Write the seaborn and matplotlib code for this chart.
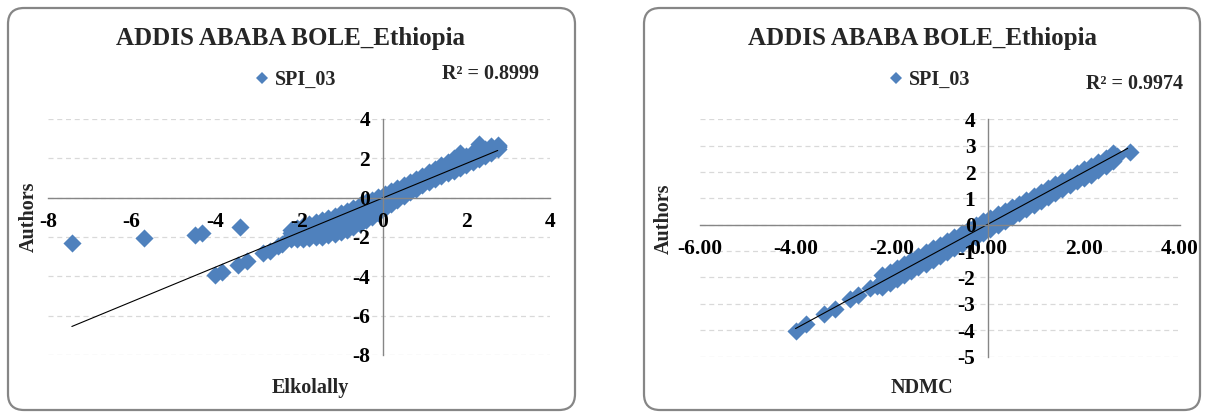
import numpy as np
import pandas as pd
import matplotlib
matplotlib.use("Agg")
import matplotlib.pyplot as plt
from matplotlib.patches import FancyBboxPatch
from matplotlib.ticker import FormatStrFormatter
import seaborn as sns

# ---------------- data ----------------
title = "ADDIS ABABA BOLE_Ethiopia"
series_name = "SPI_03"

# Left chart: Elkolally (x) vs Authors (y)
left_sparse_x = [-7.43, -5.70, -4.49, -4.33, -3.40, -4.01, -3.83, -3.45, -3.25,
                 -2.86, -2.70, -2.50, -2.40]
left_sparse_y = [-2.32, -2.06, -1.90, -1.78, -1.47, -3.93, -3.76, -3.42, -3.22,
                 -2.83, -2.69, -2.46, -2.35]
left_band_x = [-2.20, -2.05, -1.90, -1.75, -1.60, -1.45, -1.30, -1.15, -1.00, -0.85,
               -0.70, -0.55, -0.40, -0.25, -0.10, 0.05, 0.20, 0.35, 0.50, 0.65,
               0.80, 0.95, 1.10, 1.25, 1.40, 1.55, 1.70, 1.85, 2.00, 2.15,
               2.30, 2.45, 2.60, 2.75]
left_band_low = [-2.10, -2.10, -2.08, -2.05, -2.02, -1.98, -1.92, -1.85, -1.75, -1.62,
                 -1.48, -1.32, -1.15, -0.98, -0.78, -0.55, -0.32, -0.10, 0.10, 0.28,
                 0.45, 0.62, 0.78, 0.93, 1.08, 1.23, 1.38, 1.52, 1.67, 1.80,
                 1.95, 2.10, 2.25, 2.50]
left_band_m1 = [-1.95, -1.92, -1.88, -1.82, -1.76, -1.70, -1.63, -1.55, -1.45, -1.32,
                -1.18, -1.02, -0.85, -0.68, -0.50, -0.30, -0.10, 0.10, 0.28, 0.45,
                0.62, 0.78, 0.95, 1.11, 1.27, 1.42, 1.58, 1.75, 1.85, 1.98,
                2.15, 2.25, 2.38, 2.58]
left_band_m2 = [-1.80, -1.72, -1.65, -1.58, -1.50, -1.42, -1.33, -1.22, -1.12, -0.98,
                -0.85, -0.70, -0.55, -0.40, -0.24, -0.06, 0.12, 0.30, 0.46, 0.62,
                0.79, 0.95, 1.12, 1.29, 1.46, 1.62, 1.78, 2.00, 2.00, 2.15,
                2.45, 2.40, 2.52, 2.62]
left_band_high = [-1.65, -1.55, -1.45, -1.35, -1.25, -1.15, -1.05, -0.92, -0.80, -0.66,
                  -0.52, -0.38, -0.24, -0.10, 0.05, 0.20, 0.35, 0.50, 0.65, 0.80,
                  0.96, 1.12, 1.30, 1.47, 1.65, 1.82, 2.00, 2.28, 2.12, 2.32,
                  2.75, 2.50, 2.62, 2.66]
left_trend_x = [-7.43, 2.75]
left_trend_y = [-6.55, 2.40]
left_r2 = "R² = 0.8999"
left_xlabel = "Elkolally"

# Right chart: NDMC (x) vs Authors (y)
right_sparse_x = [-4.01, -3.80, -3.42, -3.18, -2.87, -2.70, -2.45, -2.32, 2.68, 2.95]
right_sparse_y = [-4.02, -3.75, -3.37, -3.18, -2.82, -2.66, -2.40, -2.33, 2.62, 2.77]
right_band_x = [-2.20, -2.05, -1.90, -1.75, -1.60, -1.45, -1.30, -1.15, -1.00, -0.85,
                -0.70, -0.55, -0.40, -0.25, -0.10, 0.05, 0.20, 0.35, 0.50, 0.65,
                0.80, 0.95, 1.10, 1.25, 1.40, 1.55, 1.70, 1.85, 2.00, 2.15,
                2.30, 2.45, 2.60]
right_band_low = [-2.35, -2.22, -2.07, -1.92, -1.77, -1.62, -1.47, -1.32, -1.17, -1.02,
                  -0.87, -0.72, -0.58, -0.45, -0.30, -0.15, 0.00, 0.15, 0.30, 0.45,
                  0.60, 0.75, 0.90, 1.05, 1.20, 1.35, 1.50, 1.65, 1.76, 1.90,
                  2.08, 2.25, 2.42]
right_band_mid = [-2.15, -2.02, -1.87, -1.72, -1.57, -1.42, -1.27, -1.12, -0.97, -0.82,
                  -0.67, -0.52, -0.37, -0.23, -0.08, 0.06, 0.20, 0.35, 0.49, 0.63,
                  0.78, 0.93, 1.08, 1.22, 1.37, 1.51, 1.66, 1.80, 1.93, 2.08,
                  2.25, 2.40, 2.57]
right_band_high = [-1.90, -1.80, -1.65, -1.50, -1.35, -1.20, -1.05, -0.90, -0.75, -0.60,
                   -0.45, -0.30, -0.15, 0.00, 0.14, 0.26, 0.40, 0.54, 0.66, 0.80,
                   0.95, 1.10, 1.25, 1.40, 1.54, 1.66, 1.80, 1.95, 2.10, 2.25,
                   2.40, 2.55, 2.72]
right_trend_x = [-4.01, 2.91]
right_trend_y = [-3.94, 2.90]
right_r2 = "R² = 0.9974"
right_xlabel = "NDMC"

ylabel = "Authors"
left_xticks = [-8, -6, -4, -2, 0, 2, 4]
left_yticks = [-8, -6, -4, -2, 0, 2, 4]
right_xticks = [-6, -4, -2, 0, 2, 4]
right_yticks = [-5, -4, -3, -2, -1, 0, 1, 2, 3, 4]

# ---------------- style ----------------
sns.set_theme(style="white")
plt.rcParams["font.family"] = ["Liberation Serif", "DejaVu Serif"]
plt.rcParams["font.weight"] = "bold"

BLUE = "#4F81BD"
GREY = "#868686"
W, H = 1206, 412
FS = 14.5
TICK_FS = 15.5

fig = plt.figure(figsize=(W / 100, H / 100), dpi=100)
fig.patch.set_facecolor("white")


def fx(px):
    return px / W


def fy(py):
    return 1 - py / H


def make_df(sx, sy, bx, rows):
    xs = list(sx)
    ys = list(sy)
    for r in rows:
        xs += list(bx)
        ys += list(r)
    return pd.DataFrame({"x": xs, "y": ys})


def draw_panel(rect_px, axes_px, df, tx, ty, xticks, yticks, xfmt, r2, r2_pos,
               xlabel, xlabel_pos, ylabel_pos, title_x, legend_x):
    x0, y0, x1, y1 = rect_px
    box = FancyBboxPatch(((x0) / 100, (H - y1) / 100), (x1 - x0) / 100, (y1 - y0) / 100,
                         boxstyle="round,pad=0,rounding_size=0.16",
                         transform=fig.dpi_scale_trans, facecolor="none",
                         edgecolor=GREY, linewidth=1.6, zorder=0)
    fig.add_artist(box)

    ax_l, ax_t, ax_r, ax_b = axes_px
    ax = fig.add_axes([fx(ax_l), fy(ax_b), fx(ax_r - ax_l), (ax_b - ax_t) / H])
    ax.set_facecolor("none")

    for yt in yticks:
        ax.axhline(yt, color="#D9D9D9", lw=0.9, ls=(0, (4, 3)), zorder=0)

    sns.scatterplot(data=df, x="x", y="y", ax=ax, marker="D", s=85, color=BLUE,
                    linewidth=0, zorder=2, legend=False)
    sns.lineplot(x=tx, y=ty, ax=ax, color="black", lw=0.8, zorder=3, legend=False)

    ax.set_xlim(xticks[0], xticks[-1])
    ax.set_ylim(yticks[0], yticks[-1])
    ax.set_xticks(xticks)
    ax.set_yticks(yticks)
    ax.xaxis.set_major_formatter(FormatStrFormatter(xfmt))
    ax.yaxis.set_major_formatter(FormatStrFormatter("%d"))
    for s in ["top", "right"]:
        ax.spines[s].set_visible(False)
    for s in ["left", "bottom"]:
        ax.spines[s].set_position("zero")
        ax.spines[s].set_color(GREY)
        ax.spines[s].set_linewidth(1.0)
        ax.spines[s].set_zorder(4)
    ax.tick_params(axis="both", which="major", direction="out", length=5, width=1.0,
                   color=GREY, labelsize=TICK_FS, pad=4, labelcolor="black")
    ax.tick_params(axis="x", pad=5)
    ax.xaxis.set_zorder(5)
    ax.yaxis.set_zorder(5)
    for lab in ax.get_xticklabels() + ax.get_yticklabels():
        lab.set_fontweight("bold")
    ax.set_xlabel("")
    ax.set_ylabel("")

    fig.text(fx(title_x), fy(38), title, ha="center", va="center",
             fontsize=18, fontweight="bold")
    fig.text(fx(r2_pos[0]), fy(r2_pos[1]), r2, ha="center", va="center",
             fontsize=FS, fontweight="bold")
    fig.text(fx(xlabel_pos[0]), fy(xlabel_pos[1]), xlabel, ha="center", va="center",
             fontsize=FS, fontweight="bold")
    fig.text(fx(ylabel_pos[0]), fy(ylabel_pos[1]), ylabel, ha="center", va="center",
             fontsize=FS, fontweight="bold", rotation=90)
    handle = plt.Line2D([], [], marker="D", color=BLUE, linestyle="none",
                        markersize=6.5, markeredgewidth=0)
    ax.legend([handle], [series_name], loc="center left",
              bbox_to_anchor=(fx(legend_x), fy(80)), bbox_transform=fig.transFigure,
              frameon=False, handlelength=0.8, handletextpad=0.25,
              borderpad=0, borderaxespad=0, prop={"size": FS, "weight": "bold"})
    return ax


left_df = make_df(left_sparse_x, left_sparse_y, left_band_x,
                  [left_band_low, left_band_m1, left_band_m2, left_band_high])
right_df = make_df(right_sparse_x, right_sparse_y, right_band_x,
                   [right_band_low, right_band_mid, right_band_high])

draw_panel((8, 8, 575, 410), (48, 119, 550, 355), left_df, left_trend_x, left_trend_y,
           left_xticks, left_yticks, "%d", left_r2, (490, 74), left_xlabel, (310, 388),
           (29, 217), 291, 254)
draw_panel((644, 8, 1200, 410), (700, 119.4, 1180, 356.5), right_df, right_trend_x,
           right_trend_y, right_xticks, right_yticks, "%.2f", right_r2, (1134, 84),
           right_xlabel, (922, 388), (664, 219), 922, 888)

fig.savefig("out.png", dpi=100)
